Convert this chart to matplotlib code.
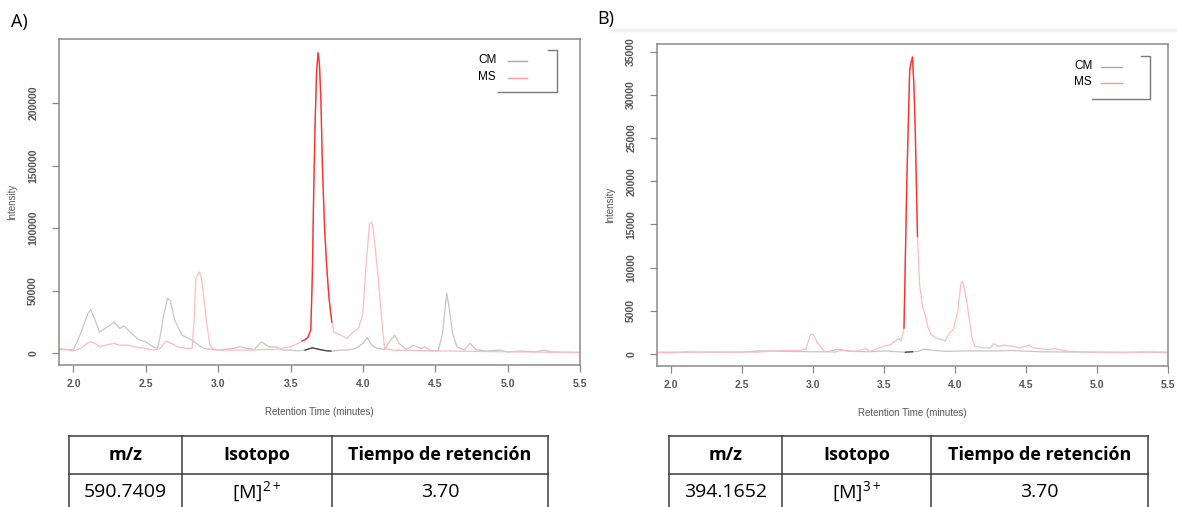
import matplotlib
matplotlib.use("Agg")
import matplotlib.pyplot as plt
from matplotlib.lines import Line2D
import numpy as np

# ---- chromatogram data (retention time in minutes, intensity) ----
# Panel A: m/z 590.7409
cm_a_time = [1.90, 2.00, 2.05, 2.10, 2.12, 2.15, 2.18, 2.20, 2.25, 2.28, 2.32, 2.35, 2.40, 2.45, 2.50,
             2.55, 2.58, 2.60, 2.62, 2.65, 2.67, 2.70, 2.75, 2.80, 2.85, 2.90, 3.00, 3.10, 3.15, 3.20,
             3.25, 3.30, 3.35, 3.40, 3.45, 3.50, 3.55, 3.60, 3.65, 3.70, 3.75, 3.78, 3.80, 3.85, 3.90,
             3.95, 4.00, 4.03, 4.06, 4.10, 4.15, 4.19, 4.22, 4.25, 4.30, 4.35, 4.40, 4.43, 4.47, 4.52,
             4.55, 4.57, 4.58, 4.595, 4.62, 4.65, 4.70, 4.74, 4.78, 4.85, 4.95, 5.00, 5.10, 5.20, 5.25,
             5.30, 5.40, 5.50]
cm_a_int = [3000, 3000, 16000, 32000, 35000, 26500, 17000, 18500, 22500, 25000, 20000, 22000, 16000, 11000, 9300,
            5300, 4000, 14000, 29000, 44000, 42000, 26500, 14500, 12000, 8000, 4000, 2700, 4000, 5300, 4000,
            3200, 9300, 5300, 5300, 2700, 2700, 2100, 2700, 4500, 3200, 2100, 1900, 2100, 2700, 2700,
            4000, 8000, 12700, 6600, 4000, 3200, 10600, 14500, 8000, 3200, 6600, 4000, 5300, 2100, 2100,
            16000, 38000, 48000, 37000, 16000, 5300, 2700, 8000, 3200, 1900, 2700, 1300, 1900, 1300, 2700,
            1300, 1000, 800]

ms_a_time = [1.90, 1.95, 2.00, 2.05, 2.10, 2.12, 2.15, 2.18, 2.22, 2.28, 2.32, 2.38, 2.42, 2.50, 2.55,
             2.60, 2.64, 2.68, 2.72, 2.78, 2.82, 2.835, 2.845, 2.87, 2.885, 2.90, 2.92, 2.94, 2.96, 3.00,
             3.20, 3.40, 3.50, 3.55, 3.58, 3.60, 3.62, 3.64, 3.65, 3.66, 3.67, 3.68, 3.69, 3.70, 3.71,
             3.72, 3.735, 3.75, 3.765, 3.785, 3.80, 3.85, 3.89, 3.93, 3.97, 4.00, 4.02, 4.045, 4.06, 4.07,
             4.10, 4.13, 4.15, 4.20, 4.50, 5.00, 5.50]
ms_a_int = [4000, 3200, 2100, 4000, 8500, 9300, 8000, 5300, 6600, 8000, 6600, 6600, 5300, 4000, 2700,
            4000, 10000, 8000, 5300, 4000, 4000, 30000, 60000, 65000, 60000, 45000, 25000, 8000, 4000, 2700,
            2700, 3400, 5300, 8000, 10000, 11000, 13000, 19000, 60000, 130000, 185000, 225000, 240000, 230000, 201000,
            150000, 100000, 69000, 45000, 25000, 17000, 14500, 12000, 17000, 20000, 32000, 68000, 103000, 105000, 100000,
            68000, 26500, 4000, 2700, 2100, 1300, 800]

# Panel B: m/z 394.1652
cm_b_time = [1.90, 2.20, 2.50, 2.62, 2.80, 3.00, 3.10, 3.18, 3.25, 3.40, 3.50, 3.60, 3.65, 3.70, 3.74,
             3.78, 3.85, 3.95, 4.10, 4.30, 4.40, 4.60, 5.00, 5.50]
cm_b_int = [200, 200, 200, 350, 300, 250, 250, 550, 300, 250, 350, 250, 200, 250, 300,
            550, 400, 300, 350, 350, 400, 250, 200, 200]

ms_b_time = [1.90, 2.00, 2.10, 2.20, 2.30, 2.40, 2.50, 2.60, 2.70, 2.80, 2.85, 2.90, 2.95, 2.98, 3.00,
             3.03, 3.08, 3.15, 3.20, 3.30, 3.37, 3.40, 3.45, 3.50, 3.55, 3.60, 3.62, 3.64, 3.66, 3.68,
             3.69, 3.70, 3.71, 3.72, 3.735, 3.75, 3.77, 3.79, 3.81, 3.83, 3.87, 3.90, 3.93, 3.96, 3.99,
             4.02, 4.04, 4.05, 4.06, 4.08, 4.10, 4.12, 4.14, 4.20, 4.25, 4.27, 4.30, 4.35, 4.40, 4.45,
             4.52, 4.55, 4.60, 4.65, 4.70, 4.80, 4.90, 5.00, 5.20, 5.35, 5.50]
ms_b_int = [150, 100, 250, 200, 250, 200, 250, 200, 300, 400, 400, 400, 600, 2200, 2300,
            1300, 300, 200, 400, 300, 600, 300, 600, 900, 1100, 1800, 1500, 3000, 20000, 32800,
            33800, 34400, 31000, 25500, 13600, 8000, 5500, 4500, 3000, 2300, 1800, 1700, 1500, 2400, 2900,
            5100, 8000, 8400, 8000, 6300, 4000, 1800, 900, 700, 700, 1200, 900, 1000, 900, 700,
            1000, 700, 600, 500, 600, 300, 250, 200, 150, 250, 150]

# highlighted retention window (start, end) for each panel
window_a = (3.58, 3.785)
window_b = (3.64, 3.735)

x_ticks = [2.0, 2.5, 3.0, 3.5, 4.0, 4.5, 5.0, 5.5]
y_ticks_a = [0, 50000, 100000, 150000, 200000]
y_ticks_b = [0, 5000, 10000, 15000, 20000, 25000, 30000, 35000]

# ---- table data ----
table_header = ["m/z", "Isotopo", "Tiempo de retención"]
mz_values = ["590.7409", "394.1652"]
isotopes = ["[M]$^{\\mathregular{2+}}$", "[M]$^{\\mathregular{3+}}$"]
ret_times = ["3.70", "3.70"]

W, H = 1177, 507
plt.rcParams['mathtext.fontset'] = 'custom'
plt.rcParams['mathtext.rm'] = 'Open Sans'

fig = plt.figure(figsize=(W / 100, H / 100), dpi=100)


def fx(x):
    return x / W


def fy(y):
    return 1 - y / H


def chrom_panel(box, cm_t, cm_v, ms_t, ms_v, window, yticks, ylim):
    left, top, right, bottom = box
    ax = fig.add_axes([fx(left), fy(bottom), fx(right) - fx(left), fy(top) - fy(bottom)])
    cm_t, cm_v = np.array(cm_t), np.array(cm_v)
    ms_t, ms_v = np.array(ms_t), np.array(ms_v)
    ax.plot(cm_t, cm_v, color="#c6c6c6", lw=0.9)
    ax.plot(ms_t, ms_v, color="#ffbcbc", lw=0.9)
    m = (cm_t >= window[0]) & (cm_t <= window[1])
    ax.plot(cm_t[m], cm_v[m], color="#3a3a3a", lw=0.9)
    m = (ms_t >= window[0]) & (ms_t <= window[1])
    ax.plot(ms_t[m], ms_v[m], color="#ff3030", lw=1.0)

    ax.set_xlim(1.9, 5.5)
    ax.set_ylim(*ylim)
    ax.set_xticks(x_ticks)
    ax.set_xticklabels([f"{t:.1f}" for t in x_ticks], fontsize=7.5, color="#555555",
                       family="Liberation Sans", fontweight="bold")
    ax.set_yticks(yticks)
    ax.set_yticklabels([str(v) for v in yticks], fontsize=7.5, color="#555555", rotation=90,
                       va="center", family="Liberation Sans", fontweight="bold")
    ax.tick_params(direction="out", length=5, width=0.9, color="#888888")
    ax.tick_params(axis="y", pad=10)
    ax.tick_params(axis="x", pad=5)
    for s in ax.spines.values():
        s.set_color("#8a8a8a")
        s.set_linewidth(1.1)
    ax.set_xlabel("Retention Time (minutes)", fontsize=7, color="#555555", family="Liberation Sans",
                  labelpad=13)
    ax.set_ylabel("Intensity", fontsize=7, color="#555555", family="Liberation Sans", labelpad=8)
    return ax


def legend_box(tx, ty1, ty2, lx1, lx2, bx1, rx, top, bot):
    fig.text(fx(tx), fy(ty1), "CM", fontsize=8.5, va="center", family="Liberation Sans")
    fig.text(fx(tx), fy(ty2), "MS", fontsize=8.5, va="center", family="Liberation Sans")
    fig.add_artist(Line2D([fx(lx1), fx(lx2)], [fy(ty1 + 1), fy(ty1 + 1)], color="#a8a8a8", lw=1))
    fig.add_artist(Line2D([fx(lx1), fx(lx2)], [fy(ty2 + 1), fy(ty2 + 1)], color="#ff9a9a", lw=1))
    fig.add_artist(Line2D([fx(rx - 9), fx(rx), fx(rx), fx(bx1)],
                          [fy(top), fy(top), fy(bot), fy(bot)], color="#7a7a7a", lw=1))


def draw_table(cols, top, mid, mz, iso, rt):
    lc = "#3c3c3c"
    fig.add_artist(Line2D([fx(cols[0]), fx(cols[-1])], [fy(top), fy(top)], color=lc, lw=1.1))
    fig.add_artist(Line2D([fx(cols[0]), fx(cols[-1])], [fy(mid), fy(mid)], color=lc, lw=1.1))
    for c in cols:
        fig.add_artist(Line2D([fx(c), fx(c)], [fy(top), fy(H)], color=lc, lw=1.1))
    hy = (top + mid) / 2
    ry = 492
    for i, lab in enumerate(table_header):
        cx = (cols[i] + cols[i + 1]) / 2
        fig.text(fx(cx), fy(hy), lab, ha="center", va="center", fontsize=13,
                 fontweight="bold", family="Open Sans")
    for i, lab in enumerate([mz, iso, rt]):
        cx = (cols[i] + cols[i + 1]) / 2
        fig.text(fx(cx), fy(ry), lab, ha="center", va="center", fontsize=14, family="Open Sans")


chrom_panel((59, 39, 580, 365), cm_a_time, cm_a_int, ms_a_time, ms_a_int, window_a,
            y_ticks_a, (-9200, 251000))
chrom_panel((657, 44, 1168, 366), cm_b_time, cm_b_int, ms_b_time, ms_b_int, window_b,
            y_ticks_b, (-1400, 35900))

legend_box(478, 60, 77, 508, 527, 498, 557, 50, 92)
legend_box(1074, 66, 82, 1101, 1122, 1092, 1150, 56, 99)

# faint band over panel B
fig.add_artist(Line2D([fx(612), fx(W)], [fy(30), fy(30)], color="#f2f2f2", lw=2.5))

fig.text(fx(11), fy(22), "A)", fontsize=13, va="center", family="Open Sans")
fig.text(fx(597), fy(19), "B)", fontsize=13, va="center", family="Open Sans")

draw_table([69, 182, 332, 548], 436, 474, mz_values[0], isotopes[0], ret_times[0])
draw_table([669, 782, 931, 1148], 436, 474, mz_values[1], isotopes[1], ret_times[1])

fig.savefig("out.png", dpi=100)
